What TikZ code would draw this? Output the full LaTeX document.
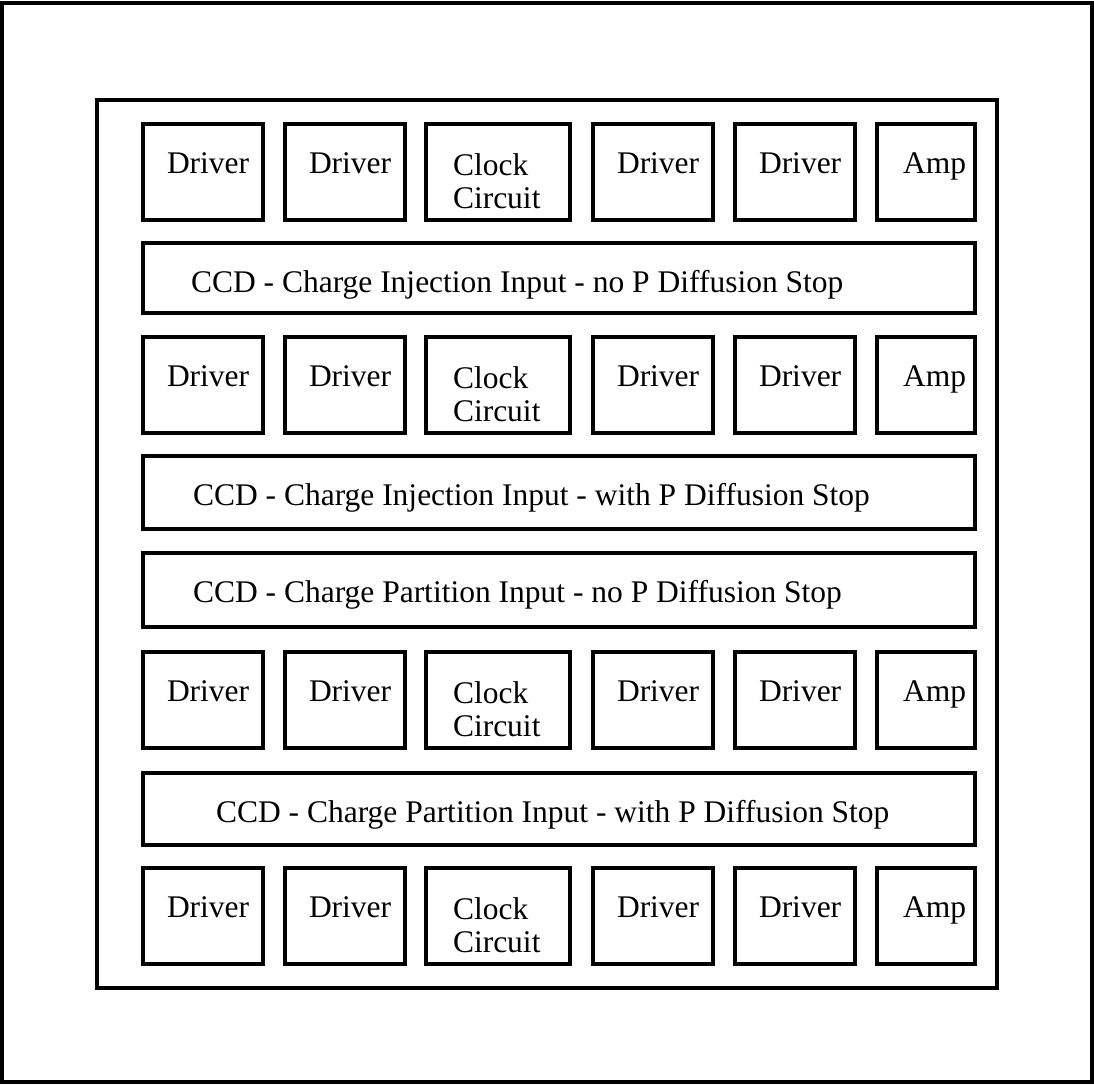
\documentclass[tikz,border=0pt]{standalone}
\usepackage{fontspec}
\setmainfont{Liberation Serif}
\begin{document}
\begin{tikzpicture}[x=1pt,y=-1pt,
  frame/.style={draw, line width=3.2pt, rectangle, inner sep=0pt, outer sep=0pt, anchor=north west},
  blk/.style={draw, line width=3.2pt, rectangle, inner sep=0pt, outer sep=0pt, anchor=north west},
  lbl/.style={anchor=base west, inner sep=0pt, outer sep=0pt, font=\fontsize{31.5}{33}\selectfont}]
\useasboundingbox (0,0) rectangle (1094,1084);
% frames
\node[frame, minimum width=1090pt, minimum height=1079pt] (outer) at (2,3) {};
\node[frame, minimum width=900pt, minimum height=888pt] (inner) at (97,100) {};
% rows of small blocks
\foreach \r/\t in {1/124,2/337,3/652,4/868}{
  \foreach \c/\l in {1/143,2/285,4/593,5/735}{
    \node[blk, minimum width=120pt, minimum height=96pt] (b\r\c) at (\l,\t) {};
    \node[lbl] (t\r\c) at (\l+24,\t+49) {Driver};
  }
  \node[blk, minimum width=144pt, minimum height=96pt] (b\r3) at (426,\t) {};
  \node[lbl] (ta\r3) at (453,\t+51) {Clock};
  \node[lbl] (tb\r3) at (453,\t+84) {Circuit};
  \node[blk, minimum width=98pt, minimum height=96pt] (b\r6) at (877,\t) {};
  \node[lbl] (t\r6) at (903,\t+49) {Amp};
}
% CCD bars
\foreach \n/\t/\h/\tx/\txt in {
  1/243/70/191/{CCD - Charge Injection Input - no P Diffusion Stop},
  2/456/73/193/{CCD - Charge Injection Input - with P Diffusion Stop},
  3/553/74/193/{CCD - Charge Partition Input - no P Diffusion Stop},
  4/773/72/216/{CCD - Charge Partition Input - with P Diffusion Stop}}{
  \node[blk, minimum width=832pt, minimum height=\h pt] (bar\n) at (143,\t) {};
  \node[lbl] (bt\n) at (\tx,\t+49) {\txt};
}
\end{tikzpicture}
\end{document}
